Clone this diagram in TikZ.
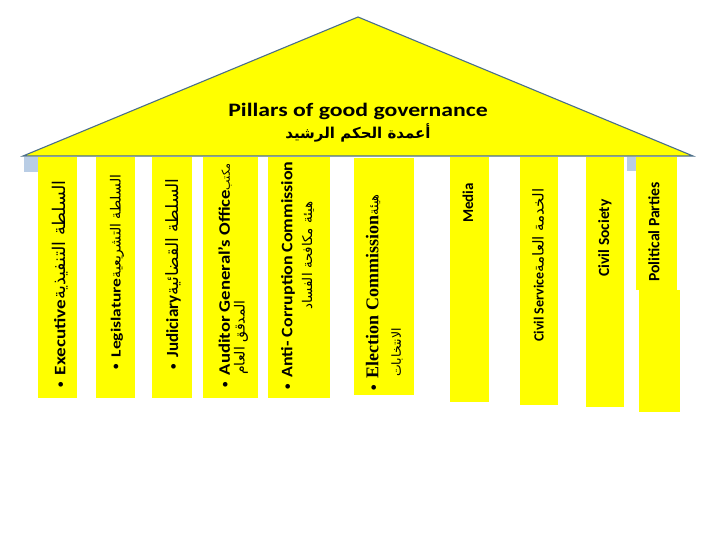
\documentclass[tikz,border=0pt]{standalone}
\usepackage{graphicx}
\usepackage{fontspec}
\setmainfont{Carlito}
\newfontfamily\arabicfont[Script=Arabic]{DejaVu Sans}
\newfontfamily\timesfont{Liberation Serif}
\TeXXeTstate=1
\definecolor{roofline}{HTML}{4A6E8A}
\definecolor{pillarfill}{HTML}{FFFF00}
\definecolor{capblue}{HTML}{B9CDE5}
\newcommand{\fsz}[1]{\fontsize{#1}{#1}\selectfont}
\newcommand{\bul}{{\fsz{11}\raisebox{1.5pt}{\textbullet}}\hspace{7pt}}
\begin{document}
\begin{tikzpicture}[x=1pt,y=-1pt,
  pillarbox/.style={fill=pillarfill, draw=none},
  vtext/.style={rotate=90, anchor=west, inner sep=0pt, font=\bfseries},
  vmid/.style={rotate=90, anchor=center, inner sep=0pt, font=\bfseries}]
\useasboundingbox (0,0) rectangle (720,540);
\fill[white] (0,0) rectangle (720,540);
% roof
\filldraw[fill=pillarfill, draw=roofline, line width=1.1pt] (23,156) -- (358,17) -- (693,156) -- cycle;
\fill[capblue] (24,157) rectangle (39,172);
\fill[capblue] (627,157) rectangle (641,171);
% pillars
\fill[pillarbox] (38,157) rectangle (77,398);
\fill[pillarbox] (96,157) rectangle (135,398);
\fill[pillarbox] (152,157) rectangle (192,398);
\fill[pillarbox] (203,157) rectangle (258,398);
\fill[pillarbox] (268,157) rectangle (330,398);
\fill[pillarbox] (354,158) rectangle (414,395);
\fill[pillarbox] (450,157) rectangle (489,402);
\fill[pillarbox] (520,157) rectangle (558,405);
\fill[pillarbox] (586,157) rectangle (624,407);
\fill[pillarbox] (636,157) rectangle (677,290);
\fill[pillarbox] (639,290) rectangle (680,412);
% title
\node[inner sep=0pt, font=\bfseries\fsz{19}] (title) at (358,111) {\scalebox{1.25}[1]{Pillars of good governance}};
\node[inner sep=0pt] (titlear) at (358,133) {{\arabicfont\bfseries\fsz{15}\beginR أعمدة الحكم الرشيد\endR}};
% pillar texts
\node[vtext] (p1) at (60,388) {\bul\scalebox{1.2}[1]{\fsz{16}Executive}{\arabicfont\mdseries\fsz{17.5}\beginR السلطة التنفيذية\endR}};
\node[vtext] (p2) at (117,370) {\bul\scalebox{1.25}[1]{\fsz{14}Legislature}{\arabicfont\mdseries\fsz{14}\beginR السلطة التشريعية\endR}};
\node[vtext] (p3) at (173,370) {\bul{\fsz{17}Judiciary}{\arabicfont\mdseries\fsz{17}\beginR السلطة القضائية\endR}};
\node[vtext] (p4a) at (225,388) {\bul\scalebox{1.17}[1]{\fsz{16}Auditor General’s Office}{\arabicfont\mdseries\fsz{11}\beginR مكتب\endR}};
\node[vtext] (p4b) at (241,375) {\arabicfont\mdseries\fsz{14}\beginR المدقق العام\endR};
\node[vtext] (p5a) at (288,390) {\bul\scalebox{1.12}[1]{\fsz{16}Anti- Corruption Commission}};
\node[vtext] (p5b) at (308,310) {\arabicfont\mdseries\fsz{13.4}\beginR هيئة مكافحة الفساد\endR};
\node[vtext] (p6a) at (373,391) {\bul{\timesfont\fsz{18}Election Commission}{\arabicfont\mdseries\fsz{13}\beginR هيئة\endR}};
\node[vtext] (p6b) at (397,377) {\arabicfont\mdseries\fsz{12.5}\beginR الانتخابات\endR};
\node[vmid] (p7) at (468,203) {\fsz{15}Media};
\node[vtext] (p8) at (538,342) {\fsz{14}Civil Service{\arabicfont\mdseries\fsz{15}\beginR الخدمة العامة\endR}};
\node[vmid] (p9) at (605,238) {\fsz{15.5}Civil Society};
\node[vmid] (p10) at (654,232) {\fsz{15.7}Political Parties};
\end{tikzpicture}
\end{document}
